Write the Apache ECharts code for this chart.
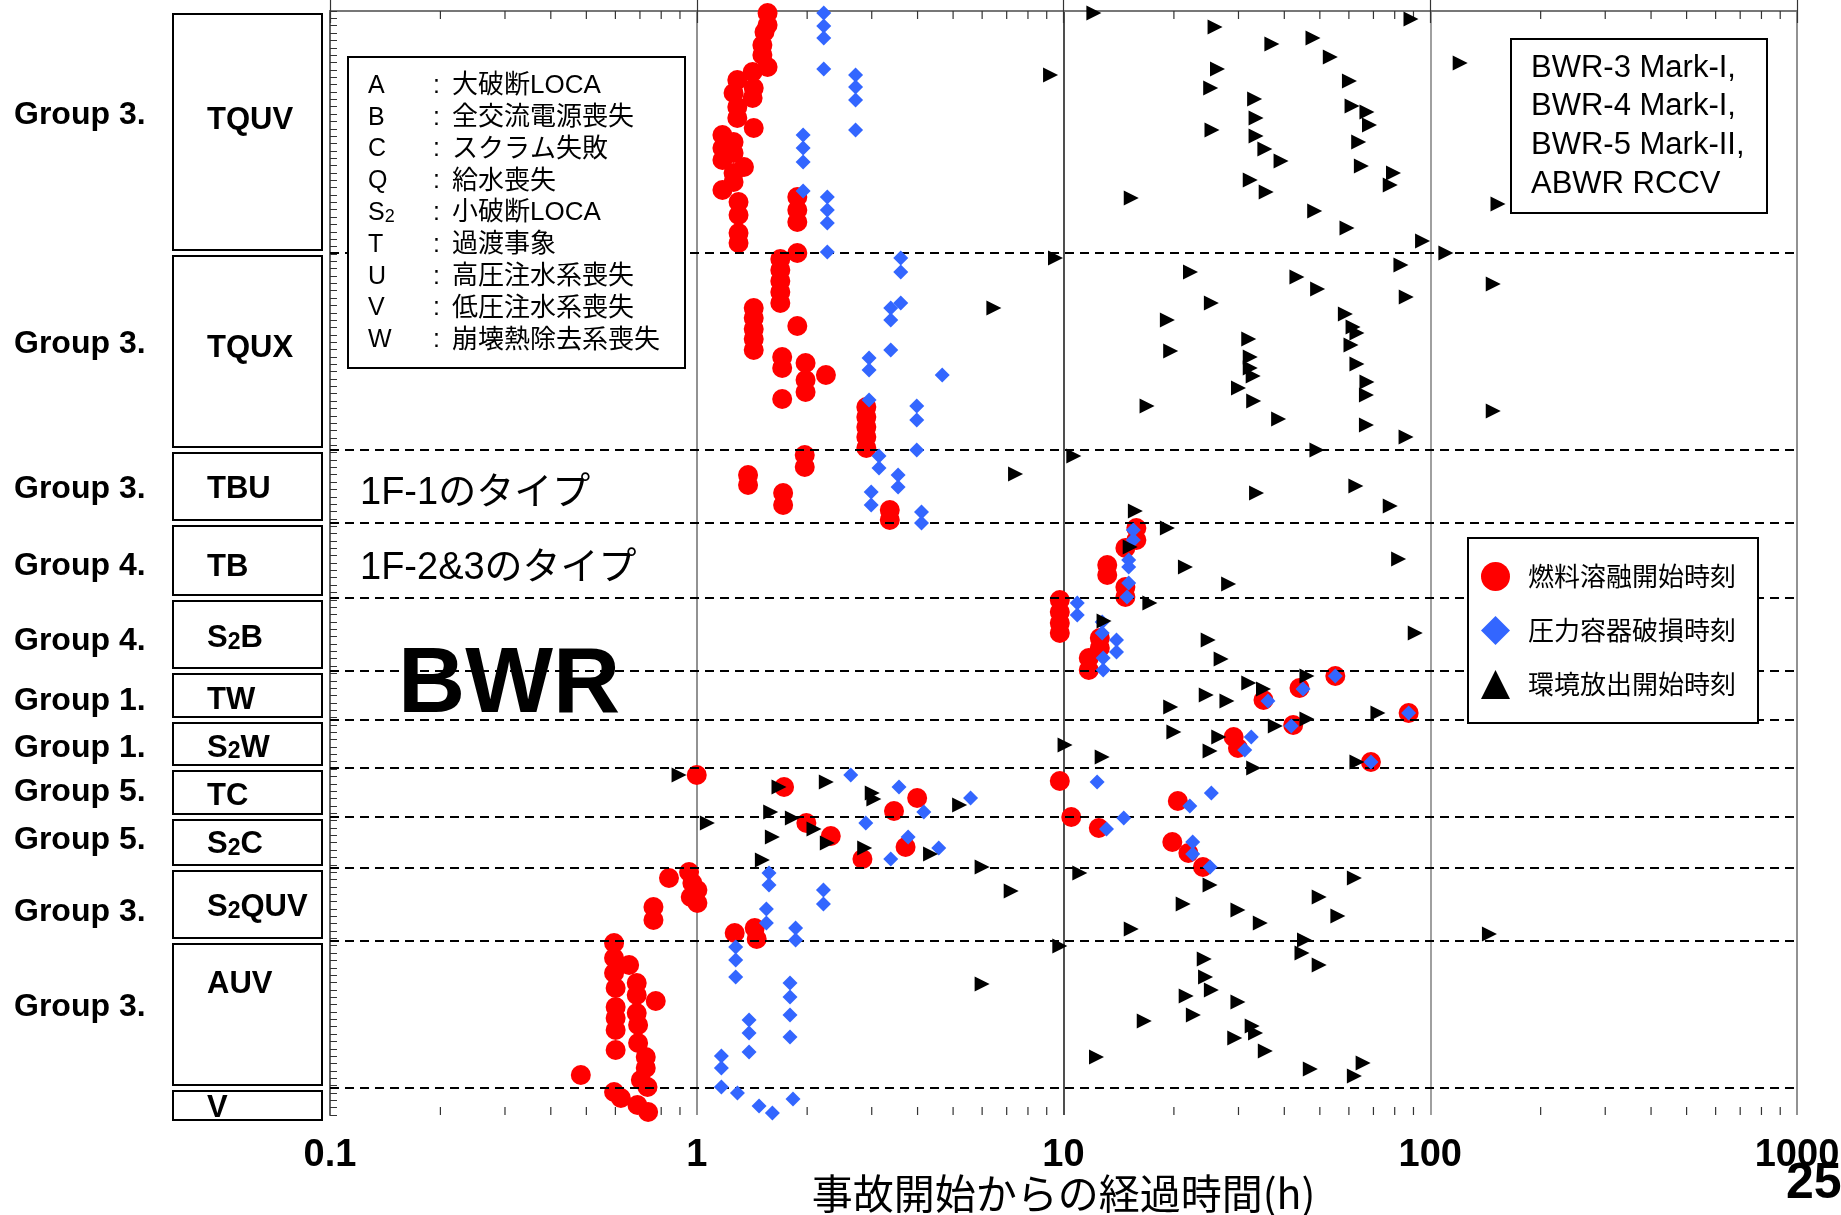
<!DOCTYPE html>
<html><head><meta charset="utf-8">
<script src="https://cdn.jsdelivr.net/npm/echarts@6/dist/echarts.min.js"></script>
<style>html,body{margin:0;padding:0;background:#fff}#c{width:1841px;height:1215px}</style>
</head><body><div id="c"></div>
<script>
// ---- categories / rows (y position is measured in plot units 0 (top) .. 1104 (bottom)) ----
const rowNames  = ['TQUV','TQUX','TBU','TB','S2B','TW','S2W','TC','S2C','S2QUV','AUV','V'];
const rowGroups = ['Group 3.','Group 3.','Group 3.','Group 4.','Group 4.','Group 1.','Group 1.','Group 5.','Group 5.','Group 3.','Group 3.',''];
const rowBounds = [0,242,439,512,587,660,709,757,806,857,930,1077,1104];
const xTickValues = [0.1,1,10,100,1000];
const minorTickValues = [0.2,0.3,0.4,0.5,0.6,0.7,0.8,0.9,2,3,4,5,6,7,8,9,20,30,40,50,60,70,80,90,200,300,400,500,600,700,800,900];
const seriesNames = ['燃料溶融開始時刻','圧力容器破損時刻','環境放出開始時刻'];
const keyLetters = ['A','B','C','Q','S2','T','U','V','W'];
const keyTexts = ['大破断LOCA','全交流電源喪失','スクラム失敗','給水喪失','小破断LOCA','過渡事象','高圧注水系喪失','低圧注水系喪失','崩壊熱除去系喪失'];
const plantTypes = ['BWR-3 Mark-I,','BWR-4 Mark-I,','BWR-5 Mark-II,','ABWR RCCV'];

// ---- data: [hours since accident start, row position] ----
const meltData = [
 [1.56,2],[1.56,14],[1.53,21],[1.51,34],[1.51,44],[1.56,56],[1.42,61],[1.29,69],[1.43,77],[1.26,82],[1.42,87],[1.29,96],[1.29,107],[1.43,117],[1.175,124],[1.26,131],[1.175,137],[1.26,142],[1.175,149],[1.345,156],[1.26,162],[1.26,171],[1.175,179],[1.30,191],[1.30,204],[1.30,222],[1.30,232],[1.88,186],[1.88,199],[1.88,211],[1.88,242],
 [1.69,248],[1.69,259],[1.69,270],[1.69,281],[1.69,292],[1.43,297],[1.43,307],[1.43,318],[1.43,328],[1.43,339],[1.88,315],[1.71,346],[1.71,357],[1.98,352],[2.25,364],[1.98,369],[1.98,381],[1.71,388],[2.90,396],[2.90,406],[2.90,416],[2.90,426],[2.90,437],
 [1.97,444],[1.97,456],[1.38,464],[1.38,474],[1.72,482],[1.72,494],[3.36,499],[3.36,509],
 [15.8,517],[15.8,529],[14.75,537],[13.16,554],[13.16,564],[14.75,576],[14.75,586],
 [9.77,589],[9.77,601],[9.77,612],[9.77,622],[12.56,627],[12.56,637],[11.72,647],[11.72,659],
 [55.1,665],[44.0,677],[35.1,689],[87.3,702],
 [42.3,714],[29.1,726],[29.9,737],[68.9,751],
 [1.0,764],[1.73,776],[3.99,787],[3.45,800],[9.77,770],[20.5,790],[10.5,806],
 [1.99,812],[2.32,825],[3.71,836],[2.83,848],[12.48,817],[19.8,831],[21.9,842],[24.0,856],
 [0.840,867],[0.953,861],[0.973,872],[1.004,879],[0.963,886],[1.004,892],[0.762,896],[0.762,909],[1.269,922],[1.439,917],[1.457,928],
 [0.595,932],[0.595,947],[0.654,954],[0.595,962],[0.601,977],[0.686,972],[0.686,984],[0.773,990],[0.601,996],[0.686,1002],[0.601,1007],[0.692,1014],[0.601,1019],[0.692,1032],[0.601,1039],[0.726,1046],[0.726,1057],[0.704,1069],[0.734,1076],[0.483,1064],
 [0.595,1081],[0.621,1087],[0.689,1094],[0.737,1101]
];
const breachData = [
 [2.22,2],[2.22,15],[2.22,27],[2.22,58],[2.71,64],[2.71,76],[2.71,89],[2.71,119],[1.95,124],[1.95,137],[1.95,151],[1.95,180],[2.27,186],[2.27,199],[2.27,212],[2.27,241],
 [3.60,247],[3.60,261],[3.60,292],[3.38,297],[3.38,309],[3.38,339],[2.95,347],[2.95,359],[4.67,364],[2.95,389],[3.98,395],[3.98,409],[3.98,439],
 [3.14,445],[3.14,457],[3.54,464],[3.54,476],[2.99,481],[2.99,494],[4.10,501],[4.10,512],
 [15.5,519],[15.5,529],[15.06,549],[15.06,556],[15.06,572],[14.9,586],
 [10.9,592],[10.9,604],[12.75,611],[12.75,622],[13.95,629],[13.95,641],[12.83,647],[12.83,659],
 [55.1,665],[45.0,678],[36.1,690],[87.3,702],
 [41.8,715],[32.5,726],[31.2,739],[68.9,751],
 [2.63,764],[3.56,776],[5.58,787],[4.16,801],[12.35,771],[25.3,782],[22.1,795],
 [2.89,812],[3.77,826],[4.57,837],[3.38,848],[14.6,807],[13.1,818],[22.5,831],[22.5,843],[25.1,856],
 [1.574,862],[1.574,874],[2.215,879],[2.215,893],[1.548,898],[1.548,912],[1.86,917],[1.86,929],
 [1.277,936],[1.277,949],[1.277,966],[1.796,972],[1.796,986],[1.796,1004],[1.796,1026],[1.389,1009],[1.389,1022],[1.389,1041],[1.167,1045],[1.167,1057],[1.167,1076],
 [1.291,1082],[1.479,1095],[1.608,1102],[1.83,1088]
];
const releaseData = [
 [12.1,2],[25.9,16],[88.6,8],[37.0,33],[47.9,27],[53.4,46],[120.7,52],[9.22,64],[26.3,58],[25.2,77],[60.2,70],[33.2,88],[61.2,95],[67.2,101],[68.3,114],[33.5,107],[25.4,119],[33.5,125],[35.4,138],[39.2,150],[63.8,131],[64.9,155],[79.4,162],[77.8,174],[32.3,169],[35.7,181],[15.3,187],[48.4,200],[59.3,217],[95.3,230],[110.3,242],[153,193],
 [9.51,247],[83.2,254],[22.2,261],[43.3,266],[49.3,278],[86.0,286],[6.46,297],[25.3,292],[19.2,309],[58.7,303],[61.6,316],[63.1,322],[60.8,334],[32.0,328],[19.6,340],[32.3,346],[32.3,357],[32.9,365],[30.0,377],[33.0,390],[63.1,353],[67.2,371],[67.0,384],[16.9,395],[38.6,408],[67.0,414],[85.9,426],[148.5,273],[148.5,400],[49.1,439],
 [10.67,445],[7.40,463],[33.6,482],[62.7,475],[77.8,495],[15.7,500],[19.2,517],
 [15.2,536],[21.5,556],[82.0,548],[28.2,573],[17.2,592],
 [12.9,610],[91.0,622],[24.8,629],[26.9,648],
 [46.1,665],[32.0,672],[35.1,678],[24.5,684],[27.9,690],[19.6,696],[72.0,702],[46.1,708],
 [37.8,715],[20.0,721],[26.5,726],[25.1,740],[10.1,734],[12.75,746],[63.1,751],[33.0,757],
 [0.895,764],[1.676,776],[2.256,771],[3.01,782],[3.04,788],[5.21,794],
 [1.069,812],[1.591,801],[1.823,807],[2.088,818],[1.608,826],[2.27,832],[2.87,837],[4.34,843],[1.51,849],[6.0,856],[11.08,862],
 [7.2,880],[62.1,867],[25.1,874],[21.2,893],[49.8,886],[56.0,905],[29.9,899],[34.4,912],[15.3,918],[145,923],[45.4,929],
 [9.77,935],[44.7,942],[49.8,954],[24.2,948],[24.4,966],[25.3,979],[21.6,985],[29.9,991],[22.6,1004],[16.6,1010],[32.7,1015],[33.4,1022],[29.3,1027],[35.5,1040],[12.3,1046],[47.1,1058],[65.6,1052],[62.1,1065],[6.0,973]
];

// ---- layout (label offsets from band centre, pixels) ----
const groupDy = [-17,-7,3,6,7,6,4,0,-2,8,-7,0];
const nameDy  = [-12,-3,3,7,4,5,4,4,2,3,-30,7];

const LAT = "'Liberation Sans', Arial, sans-serif";
const MIX = "'Liberation Sans','Noto Sans CJK JP', sans-serif";
const CJK = "'Noto Sans CJK JP', sans-serif";

const Y_MAX = rowBounds[rowBounds.length-1];

const option = {
  animation: false,
  backgroundColor: '#fff',
  grid: { left: 330, right: 44, top: 11, bottom: 100, containLabel: false, outerBoundsMode: 'none' },
  xAxis: [{
    type: 'log', logBase: 10, min: xTickValues[0], max: xTickValues[xTickValues.length-1], position: 'bottom',
    axisLine: { show: true, lineStyle: { color: '#777', width: 2 } },
    axisTick: { show: true, inside: true, length: 12, lineStyle: { color: '#333', width: 1.2 } },
    axisLabel: { fontSize: 38, fontWeight: 'bold', fontFamily: LAT, color: '#000', margin: 22,
      formatter: v => (v < 1 ? Number(v).toFixed(1) : String(Math.round(v))) },
    splitLine: { show: true, lineStyle: { color: ['#777','#777','#222','#888','#777'], width: 1.6 } },
    name: '事故開始からの経過時間(h)', nameLocation: 'middle', nameGap: 58, nameMoveOverlap: false,
    nameTextStyle: { fontSize: 41, fontFamily: CJK, color: '#000' }
  },{
    type: 'log', logBase: 10, min: xTickValues[0], max: xTickValues[xTickValues.length-1], position: 'top',
    axisLine: { show: true, lineStyle: { color: '#777', width: 2 } },
    axisTick: { show: true, inside: true, length: 12, lineStyle: { color: '#333', width: 1.2 } },
    axisLabel: { show: false }, splitLine: { show: false }
  }],
  yAxis: {
    type: 'value', inverse: true, min: 0, max: Y_MAX, interval: Y_MAX/150,
    axisLine: { show: true, lineStyle: { color: '#666', width: 2 } },
    axisTick: { show: true, inside: true, length: 7, lineStyle: { color: '#333', width: 1 } },
    axisLabel: { show: false }, splitLine: { show: false }
  },
  legend: {
    orient: 'vertical', left: 1468, top: 538, padding: [24,22,24,13], itemGap: 25,
    itemWidth: 29, itemHeight: 29, backgroundColor: '#fff', borderColor: '#000', borderWidth: 2,
    selectedMode: false, z: 20,
    textStyle: { fontSize: 26, fontFamily: CJK, color: '#000', padding: [0,0,0,13] },
    data: [{ name: seriesNames[0], icon: 'circle' }, { name: seriesNames[1], icon: 'diamond' }, { name: seriesNames[2], icon: 'triangle' }]
  },
  series: [
    {
      type: 'custom', name: 'minorTicks', silent: true, clip: false, z: 3,
      data: minorTickValues.map(v => [v, 0]),
      renderItem: function (params, api) {
        const t = api.coord([api.value(0), 0]);
        const b = api.coord([api.value(0), Y_MAX]);
        return { type: 'group', children: [
          { type: 'line', shape: { x1: t[0], y1: t[1], x2: t[0], y2: t[1] + 8 }, style: { stroke: '#333', lineWidth: 1.2 } },
          { type: 'line', shape: { x1: b[0], y1: b[1], x2: b[0], y2: b[1] - 8 }, style: { stroke: '#333', lineWidth: 1.2 } }
        ]};
      },
      markLine: {
        silent: true, symbol: ['none','none'], label: { show: false },
        lineStyle: { type: [9,6], color: '#000', width: 2 },
        data: rowBounds.slice(1, -1).map(v => ({ yAxis: v }))
      }
    },
    { type: 'scatter', name: seriesNames[0], data: meltData, symbol: 'circle', symbolSize: 20,
      itemStyle: { color: '#FF0000', opacity: 1 }, z: 4 },
    { type: 'scatter', name: seriesNames[1], data: breachData, symbol: 'diamond', symbolSize: 15,
      itemStyle: { color: '#3366FF', opacity: 1 }, z: 5 },
    { type: 'scatter', name: seriesNames[2], data: releaseData, symbol: 'path://M0,0L10,5L0,10Z', symbolSize: [15,15],
      itemStyle: { color: '#000', opacity: 1 }, z: 6 }
  ]
};

const chart = echarts.init(document.getElementById('c'));
chart.setOption(option);

const py = v => chart.convertToPixel({ yAxisIndex: 0 }, v);
const g = [];
function subName(n) {
  if (n.indexOf('S2') === 0) return '{b|S}{s|2}{b|' + n.slice(2) + '}';
  return '{b|' + n + '}';
}
rowNames.forEach((n, i) => {
  const top = py(rowBounds[i]) + 3;
  const bot = (i === rowNames.length - 1) ? py(rowBounds[i+1]) + 5 : py(rowBounds[i+1]) - 3;
  const mid = (py(rowBounds[i]) + py(rowBounds[i+1])) / 2;
  g.push({ type: 'rect', shape: { x: 173, y: top, width: 149, height: bot - top },
    style: { fill: '#fff', stroke: '#000', lineWidth: 2 }, z: 50 });
  g.push({ type: 'text', x: 207, y: mid + nameDy[i], z: 51,
    style: { text: subName(n), verticalAlign: 'middle', align: 'left',
      rich: { b: { fontSize: 31, fontWeight: 'bold', fontFamily: LAT, fill: '#000', verticalAlign: 'bottom' },
              s: { fontSize: 23, fontWeight: 'bold', fontFamily: LAT, fill: '#000', verticalAlign: 'bottom' } } } });
  if (rowGroups[i]) {
    g.push({ type: 'text', x: 14, y: mid + groupDy[i], z: 51,
      style: { text: rowGroups[i], fontSize: 32, fontWeight: 'bold', fontFamily: LAT, fill: '#000', verticalAlign: 'middle' } });
  }
});
// key box (abbreviations)
g.push({ type: 'rect', shape: { x: 348, y: 57, width: 337, height: 311 }, style: { fill: '#fff', stroke: '#000', lineWidth: 2 }, z: 50 });
keyLetters.forEach((k, i) => {
  const y = 86 + i * 31.8;
  const kt = k === 'S2' ? '{n|S}{s|2}' : '{n|' + k + '}';
  g.push({ type: 'text', x: 368, y: y, z: 51, style: { text: kt, verticalAlign: 'middle',
    rich: { n: { fontSize: 25, fontFamily: LAT, fill: '#000', verticalAlign: 'bottom' }, s: { fontSize: 18, fontFamily: LAT, fill: '#000', verticalAlign: 'bottom' } } } });
  g.push({ type: 'text', x: 433, y: y, z: 51, style: { text: ':', fontSize: 25, fontFamily: LAT, fill: '#000', verticalAlign: 'middle' } });
  g.push({ type: 'text', x: 452, y: y, z: 51, style: { text: keyTexts[i], fontSize: 26, fontFamily: MIX, fill: '#000', verticalAlign: 'middle' } });
});
// plant types box
g.push({ type: 'rect', shape: { x: 1511, y: 39, width: 256, height: 174 }, style: { fill: '#fff', stroke: '#000', lineWidth: 2 }, z: 50 });
plantTypes.forEach((t, i) => {
  g.push({ type: 'text', x: 1531, y: 68 + i * 38.7, z: 51, style: { text: t, fontSize: 31, fontFamily: LAT, fill: '#000', verticalAlign: 'middle' } });
});
// annotations
g.push({ type: 'text', x: 360, y: 494, z: 51, style: { text: '1F-1のタイプ', fontSize: 38, fontFamily: MIX, fill: '#000', verticalAlign: 'middle' } });
g.push({ type: 'text', x: 360, y: 569, z: 51, style: { text: '1F-2&3のタイプ', fontSize: 38, fontFamily: MIX, fill: '#000', verticalAlign: 'middle' } });
g.push({ type: 'text', x: 398, y: 686, z: 51, style: { text: 'BWR', fontSize: 93, fontWeight: 'bold', fontFamily: LAT, fill: '#000', verticalAlign: 'middle' } });
g.push({ type: 'text', x: 1786, y: 1184, z: 51, style: { text: '25', fontSize: 50, fontWeight: 'bold', fontFamily: LAT, fill: '#000', verticalAlign: 'middle' } });

chart.setOption({ graphic: g });
</script>
</body></html>
